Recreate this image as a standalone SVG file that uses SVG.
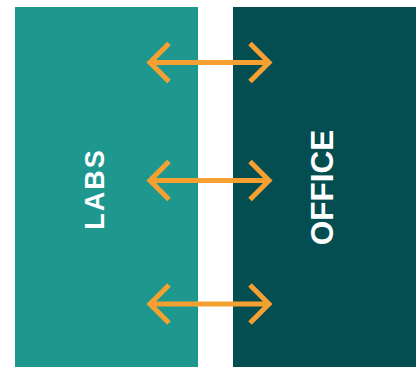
<svg xmlns="http://www.w3.org/2000/svg" width="416" height="367" viewBox="0 0 416 367">
<style>
.lbl{font-family:"Liberation Sans",Arial,sans-serif;font-weight:bold;fill:#ffffff;text-anchor:middle}
.arr{fill:none;stroke:#F7A032;stroke-width:5;stroke-linecap:butt;stroke-linejoin:miter}
</style>
<rect width="416" height="367" fill="#ffffff"/>
<g id="labs">
<rect x="15" y="7" width="183" height="360" fill="#1E978F"/>
<text class="lbl" transform="translate(104,189) rotate(-90)" font-size="27" letter-spacing="2">LABS</text>
</g>
<g id="office">
<rect x="233" y="7" width="183" height="360" fill="#044E51"/>
<text class="lbl" transform="translate(333,187.5) rotate(-90)" font-size="31.5">OFFICE</text>
</g>
<g id="connectors">
<path class="arr" d="M149,62.5H270M169,43.5L150,62.5L169,81.5M250,43.5L269,62.5L250,81.5"/>
<path class="arr" d="M149,180.5H270M169,161.5L150,180.5L169,199.5M250,161.5L269,180.5L250,199.5"/>
<path class="arr" d="M149,304H270M169,285L150,304L169,323M250,285L269,304L250,323"/>
</g>
</svg>
